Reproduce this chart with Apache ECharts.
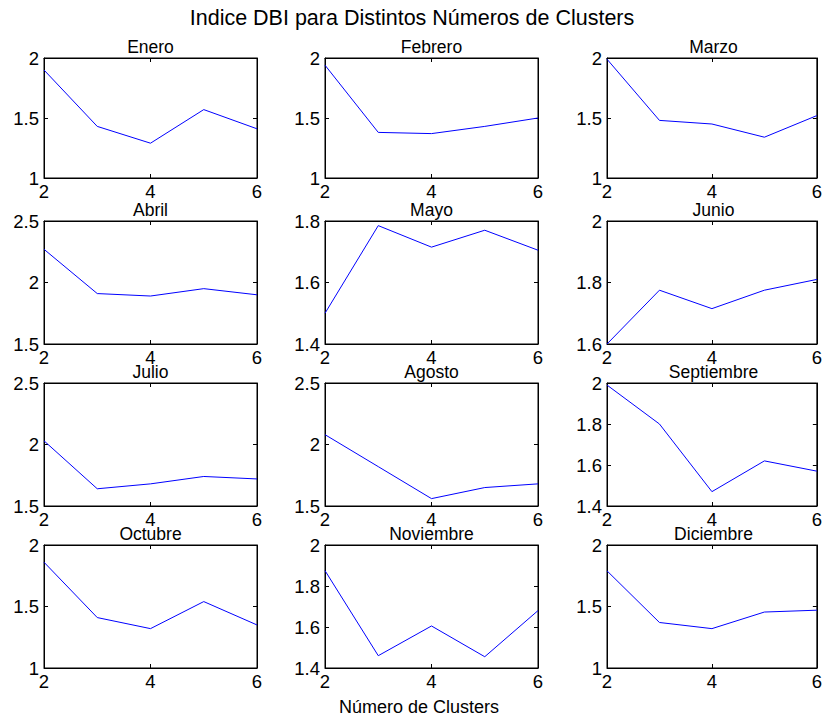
<!DOCTYPE html>
<html><head><meta charset="utf-8">
<script src="https://cdn.jsdelivr.net/npm/echarts@6/dist/echarts.min.js"></script>
<style>html,body{margin:0;padding:0;background:#fff}#c{width:825px;height:717px}</style>
</head><body><div id="c"></div>
<script>
// ---- data ----
const clusters = [2, 3, 4, 5, 6];
const months = ['Enero','Febrero','Marzo','Abril','Mayo','Junio','Julio','Agosto','Septiembre','Octubre','Noviembre','Diciembre'];
const enero      = [1.90, 1.43, 1.29, 1.57, 1.41];
const febrero    = [1.94, 1.38, 1.37, 1.43, 1.50];
const marzo      = [1.99, 1.48, 1.45, 1.34, 1.52];
const abril      = [2.27, 1.91, 1.89, 1.95, 1.90];
const mayo       = [1.50, 1.785, 1.715, 1.77, 1.705];
const junio      = [1.60, 1.775, 1.715, 1.775, 1.81];
const julio      = [2.03, 1.64, 1.68, 1.74, 1.72];
const agosto     = [2.08, 1.82, 1.56, 1.65, 1.68];
const septiembre = [1.99, 1.80, 1.47, 1.62, 1.57];
const octubre    = [1.86, 1.41, 1.32, 1.54, 1.35];
const noviembre  = [1.875, 1.46, 1.605, 1.455, 1.68];
const diciembre  = [1.79, 1.37, 1.32, 1.455, 1.47];
const yMin  = [1, 1, 1, 1.5, 1.4, 1.6, 1.5, 1.5, 1.4, 1, 1.4, 1];
const yMax  = [2, 2, 2, 2.5, 1.8, 2, 2.5, 2.5, 2, 2, 2, 2];
const yStep = [0.5, 0.5, 0.5, 0.5, 0.2, 0.2, 0.5, 0.5, 0.2, 0.5, 0.2, 0.5];
const xMin = 2, xMax = 6, xStep = 2;
const mainTitle = 'Indice DBI para Distintos Números de Clusters';
const xLabel = 'Número de Clusters';

const seriesValues = [enero, febrero, marzo, abril, mayo, junio, julio, agosto, septiembre, octubre, noviembre, diciembre];

// ---- layout ----
const FONT = "'Liberation Sans', Arial, Helvetica, sans-serif";
const colLeft = [44, 325, 607];
const colW = 213;
const rowTop = [58, 221, 383, 545];
const rowH = [120, 123, 123, 123];

const grid = [], xAxis = [], yAxis = [], series = [], graphic = [];
const fmt = v => String(+(+v).toFixed(2));

months.forEach((m, i) => {
  const r = Math.floor(i / 3), c = i % 3;
  grid.push({left: colLeft[c], top: rowTop[r], width: colW, height: rowH[r],
    show: true, borderColor: '#000', borderWidth: 1, backgroundColor: '#fff', containLabel: false});
  const tick = {inside: true, length: 4, lineStyle: {color: '#000', width: 1}};
  const line = {show: true, lineStyle: {color: '#000', width: 1}};
  xAxis.push({gridIndex: i, type: 'value', position: 'bottom', min: xMin, max: xMax, interval: xStep,
    axisLine: line, axisTick: tick, splitLine: {show: false},
    axisLabel: {fontSize: 18.5, color: '#000', fontFamily: FONT, margin: 4, formatter: fmt}});
  xAxis.push({gridIndex: i, type: 'value', position: 'top', min: xMin, max: xMax, interval: xStep,
    axisLine: line, axisTick: tick, splitLine: {show: false}, axisLabel: {show: false}});
  yAxis.push({gridIndex: i, type: 'value', position: 'left', min: yMin[i], max: yMax[i], interval: yStep[i],
    axisLine: line, axisTick: tick, splitLine: {show: false},
    axisLabel: {fontSize: 18.5, color: '#000', fontFamily: FONT, margin: 5, formatter: fmt}});
  yAxis.push({gridIndex: i, type: 'value', position: 'right', min: yMin[i], max: yMax[i], interval: yStep[i],
    axisLine: line, axisTick: tick, splitLine: {show: false}, axisLabel: {show: false}});
  series.push({type: 'line', xAxisIndex: 2 * i, yAxisIndex: 2 * i,
    data: clusters.map((x, j) => [x, seriesValues[i][j]]),
    symbol: 'none', lineStyle: {color: '#0000ff', width: 1}, silent: true});
  graphic.push({type: 'text', x: colLeft[c] + colW / 2, y: rowTop[r] - 2, silent: true,
    style: {text: m, font: '17.5px ' + FONT, fill: '#000', textAlign: 'center', textVerticalAlign: 'bottom'}});
});

graphic.push({type: 'text', x: 412, y: 18, silent: true,
  style: {text: mainTitle, font: '21.5px ' + FONT, fill: '#000', textAlign: 'center', textVerticalAlign: 'middle'}});
graphic.push({type: 'text', x: 419, y: 707, silent: true,
  style: {text: xLabel, font: '18px ' + FONT, fill: '#000', textAlign: 'center', textVerticalAlign: 'middle'}});

const chart = echarts.init(document.getElementById('c'), null, {renderer: 'svg'});
chart.setOption({animation: false, backgroundColor: '#fff', grid, xAxis, yAxis, series, graphic});
</script></body></html>
